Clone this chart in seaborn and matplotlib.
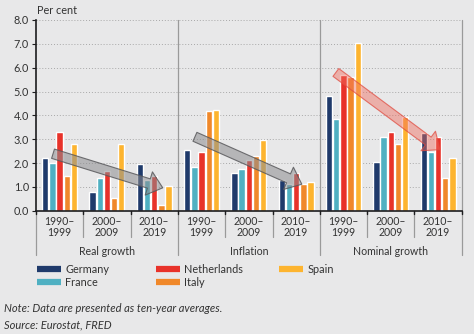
import matplotlib
matplotlib.use("Agg")
import matplotlib.pyplot as plt
import matplotlib.transforms as mtransforms
from matplotlib.patches import FancyArrowPatch, ArrowStyle
from matplotlib.lines import Line2D
import seaborn as sns
import pandas as pd

# ---- data (ten-year averages, per cent) ----
groups = ["Real growth", "Inflation", "Nominal growth"]
periods = ["1990–\n1999", "2000–\n2009", "2010–\n2019"]
countries = ["Germany", "France", "Netherlands", "Italy", "Spain"]
colors = ["#1f3a6b", "#4fb0c2", "#e8322a", "#f0882a", "#fdb42f"]

germany = [2.23, 0.77, 1.98, 2.56, 1.59, 1.28, 4.80, 2.06, 3.26]
france = [2.02, 1.36, 1.30, 1.84, 1.73, 1.10, 3.85, 3.09, 2.45]
netherlands = [3.30, 1.67, 1.46, 2.46, 2.12, 1.58, 5.70, 3.30, 3.09]
italy = [1.45, 0.52, 0.25, 4.17, 2.28, 1.12, 5.60, 2.81, 1.38]
spain = [2.80, 2.78, 1.03, 4.24, 2.98, 1.19, 7.02, 3.93, 2.19]

slots = [f"{g} {p}" for g in groups for p in periods]
series = [germany, france, netherlands, italy, spain]
df = pd.DataFrame(
    [(s, c, v) for c, vals in zip(countries, series) for s, v in zip(slots, vals)],
    columns=["slot", "country", "value"],
)

bg = "#e8e8e9"
dark = "#1d1d1f"
txt = "#333333"
sns.set_theme(style="white")
plt.rcParams["font.family"] = ["Lato", "DejaVu Sans"]

fig = plt.figure(figsize=(4.74, 3.34), dpi=100, facecolor=bg)
ax = fig.add_axes([36 / 474, 1 - 210.7 / 334, (461.7 - 36) / 474, 190.7 / 334])
ax.set_facecolor(bg)

sns.barplot(data=df, x="slot", y="value", hue="country", order=slots,
            hue_order=countries, palette=colors, saturation=1,
            width=0.76, gap=0.12, ax=ax, legend=False, zorder=3)

ax.set_xlim(-0.5, 8.5)
ax.set_ylim(0, 8)
ax.set_yticks(range(9))
ax.set_yticklabels([f"{v:.1f}" for v in range(9)], fontsize=7.8, color=txt)
ax.tick_params(axis="y", length=3, width=0.8, color=dark, pad=2, left=True)
ax.set_xlabel("")
ax.set_ylabel("")
ax.set_xticks([])
for y in range(1, 9):
    ax.axhline(y, color="#a8a8a8", lw=0.7, ls=(0, (1, 2)), zorder=1)

for side in ["top", "right"]:
    ax.spines[side].set_visible(False)
ax.spines["left"].set_color(dark)
ax.spines["left"].set_linewidth(1.2)
ax.spines["bottom"].set_color(dark)
ax.spines["bottom"].set_linewidth(1.2)
ax.spines["bottom"].set_zorder(5)

trans = mtransforms.blended_transform_factory(ax.transData, ax.transAxes)
# group separators through the plot and the label rows
for x in [2.5, 5.5, 8.5]:
    ax.plot([x, x], [1.0, 0.0], transform=trans, color="#9a9a9a", lw=0.9,
            clip_on=False, zorder=2)
for x in [-0.5, 2.5, 5.5, 8.5]:
    ax.plot([x, x], [0.0, -0.232], transform=trans, color="#9a9a9a", lw=0.9,
            clip_on=False)
# period separators in the first label row
for x in [0.5, 1.5, 3.5, 4.5, 6.5, 7.5]:
    ax.plot([x, x], [0.0, -0.136], transform=trans, color="#9a9a9a", lw=0.9,
            clip_on=False)
for x in [-0.5, 0.5, 1.5, 2.5, 3.5, 4.5, 5.5, 6.5, 7.5, 8.5]:
    ax.plot([x, x], [0.0, -0.016], transform=trans, color=dark, lw=1.0,
            clip_on=False, zorder=6)

for i in range(9):
    ax.text(i, -0.087, periods[i % 3], transform=trans, ha="center", va="center",
            fontsize=7.6, color=txt, linespacing=1.0)
for j, g in enumerate(groups):
    ax.text(3 * j + 1, -0.212, g, transform=trans, ha="center", va="center",
            fontsize=7.6, color=txt)

fig.text(37 / 474, 1 - 10 / 334, "Per cent", fontsize=7.8, color=txt,
         ha="left", va="center")

# trend arrows
gray_style = dict(facecolor=(0.55, 0.55, 0.56, 0.55), edgecolor=(0.35, 0.35, 0.36, 0.85))
red_style = dict(facecolor=(0.94, 0.42, 0.36, 0.45), edgecolor=(0.88, 0.30, 0.26, 0.75))
arrows = [((-0.14, 2.39), (2.18, 0.96), gray_style),
          ((2.86, 3.10), (5.12, 1.11), gray_style),
          ((5.84, 5.80), (8.04, 2.56), red_style)]
style = ArrowStyle.Simple(head_length=1.05, head_width=1.75, tail_width=0.7)
for a, b, st in arrows:
    ax.add_patch(FancyArrowPatch(a, b, arrowstyle=style, mutation_scale=10,
                                 shrinkA=0, shrinkB=0, lw=0.8, zorder=8,
                                 transform=ax.transData, **st))

# legend in three columns
def handles(names):
    return [Line2D([], [], color=colors[countries.index(n)], lw=4.5,
                   solid_capstyle="butt") for n in names]

for names, xpx in [(["Germany", "France"], 37),
                   (["Netherlands", "Italy"], 156),
                   (["Spain"], 279)]:
    fig.legend(handles(names), names, loc="upper left",
               bbox_to_anchor=(xpx / 474, 1 - 264 / 334), frameon=False,
               fontsize=7.8, handlelength=2.2, handletextpad=0.4,
               borderpad=0, borderaxespad=0, labelspacing=0.2,
               labelcolor=txt)

fig.text(4 / 474, 1 - 309 / 334, "Note: Data are presented as ten-year averages.",
         fontsize=8, style="italic", color=txt, ha="left", va="center")
fig.text(4 / 474, 1 - 325 / 334, "Source: Eurostat, FRED",
         fontsize=8, style="italic", color=txt, ha="left", va="center")

fig.savefig("out.png", dpi=100, facecolor=bg)
